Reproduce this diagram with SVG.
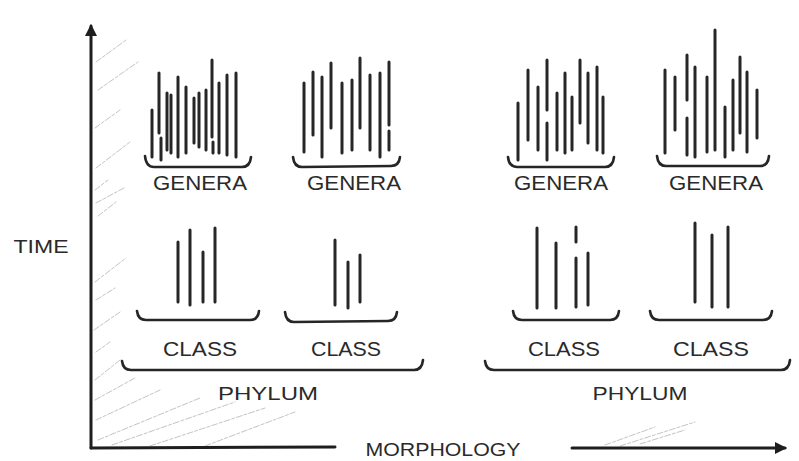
<svg xmlns="http://www.w3.org/2000/svg" width="799" height="461" viewBox="0 0 799 461">
<defs>
<style>
.ln{stroke:#262626;stroke-width:3;stroke-linecap:round;fill:none}
.br{stroke:#262626;stroke-width:2.6;stroke-linecap:round;stroke-linejoin:round;fill:none}
.ax{stroke:#1e1e1e;stroke-width:3;stroke-linecap:round;fill:none}
.tx{font-family:"Liberation Sans","DejaVu Sans",sans-serif;fill:#2a2a2a;text-anchor:middle}
.hatch{stroke:#c4c4c4;stroke-width:1;fill:none;stroke-linecap:round;stroke-dasharray:6 2 3 2}
</style>
<marker id="arr" viewBox="0 0 12 12" refX="10" refY="6" markerWidth="12" markerHeight="12" markerUnits="userSpaceOnUse" orient="auto">
<path d="M0,0 L12,6 L0,12 Z" fill="#1e1e1e"/>
</marker>
</defs>
<rect width="799" height="461" fill="#ffffff"/>

<g id="shading">
<path class="hatch" d="M96,62 L126,40 M98,90 L138,62 M95,128 L120,110 M96,168 L130,142 M95,190 L108,180 M96,203 L124,188 M98,216 L116,202 M95,282 L126,258 M96,300 L115,288 M94,330 L120,312 M96,352 L110,342 M95,380 L120,360 M95,400 L135,378 M96,420 L160,390 M98,440 L200,398 M112,445 L235,402 M150,446 L265,408 M205,446 L295,412 M605,445 L655,427 M620,446 L695,422 M640,444 L685,430"/>
</g>

<g id="connectors">
<path class="ax" d="M91,448 L91,26" marker-end="url(#arr)"/>
<path class="ax" d="M91,448 L335,447"/>
<path class="ax" d="M572,448 L785,448" marker-end="url(#arr)"/>
</g>

<g id="time-label"><text class="tx" x="41" y="253" font-size="18" textLength="55" lengthAdjust="spacingAndGlyphs">TIME</text></g>
<g id="morphology-label"><text class="tx" x="443" y="456" font-size="19" textLength="155" lengthAdjust="spacingAndGlyphs">MORPHOLOGY</text></g>

<g id="genera1">
<path class="ln" d="M152,110 L152,157 M159,73 L159,133 M161,138 L161,160 M167,93 L167,150 M171,95 L171,153 M178,77 L178,157 M186,87 L186,153 M194,98 L194,143 M199,93 L199,147 M206,90 L206,150 M212,60 L212,137 M213,142 L213,153 M219,83 L219,153 M227,75 L227,155 M236,73 L236,157"/>
<path class="br" d="M145,156 Q146,167 154,167 L242,167 Q250,167 251,157"/>
<text class="tx" x="200" y="190" font-size="21" textLength="94" lengthAdjust="spacingAndGlyphs">GENERA</text>
</g>

<g id="genera2">
<path class="ln" d="M304,83 L304,152 M313,72 L313,135 M322,77 L322,157 M331,63 L331,128 M342,83 L342,153 M352,80 L352,150 M360,58 L360,128 M370,75 L370,150 M380,73 L380,157 M389,62 L389,125 M389,131 L389,150"/>
<path class="br" d="M293,157 Q294,167 302,167 L391,166 Q399,166 400,157"/>
<text class="tx" x="354" y="190" font-size="21" textLength="94" lengthAdjust="spacingAndGlyphs">GENERA</text>
</g>

<g id="genera3">
<path class="ln" d="M518,103 L518,160 M528,70 L528,140 M538,87 L538,150 M547,60 L547,110 M547,123 L547,160 M557,93 L557,150 M565,73 L565,153 M572,97 L572,150 M580,60 L580,123 M588,73 L588,143 M597,67 L597,150 M603,97 L603,153"/>
<path class="br" d="M508,157 Q509,167 517,167 L605,167 Q613,167 614,157"/>
<text class="tx" x="561" y="190" font-size="21" textLength="94" lengthAdjust="spacingAndGlyphs">GENERA</text>
</g>

<g id="genera4">
<path class="ln" d="M665,70 L665,153 M675,77 L675,130 M687,55 L687,100 M687,118 L687,155 M695,67 L695,157 M707,77 L707,152 M715,30 L715,150 M725,107 L725,157 M733,80 L733,150 M740,57 L740,133 M747,72 L747,152 M757,90 L757,138"/>
<path class="br" d="M657,156 Q658,166 666,166 L760,166 Q768,166 769,156"/>
<text class="tx" x="716" y="190" font-size="21" textLength="94" lengthAdjust="spacingAndGlyphs">GENERA</text>
</g>

<g id="class1">
<path class="ln" d="M178,242 L178,302 M190,230 L190,305 M203,252 L203,302 M215,228 L215,302"/>
<path class="br" d="M137,311 Q138,320 146,320 L250,320 Q258,320 259,311"/>
<text class="tx" x="200" y="356" font-size="20" textLength="74" lengthAdjust="spacingAndGlyphs">CLASS</text>
</g>

<g id="class2">
<path class="ln" d="M335,240 L335,305 M348,262 L348,308 M360,255 L360,302"/>
<path class="br" d="M285,312 Q286,322 294,322 L388,321 Q396,321 397,312"/>
<text class="tx" x="346" y="356" font-size="20" textLength="70" lengthAdjust="spacingAndGlyphs">CLASS</text>
</g>

<g id="class3">
<path class="ln" d="M537,228 L537,308 M556,243 L556,308 M576,227 L576,242 M576,258 L576,307 M588,253 L588,305"/>
<path class="br" d="M513,311 Q514,320 522,320 L610,320 Q618,320 619,311"/>
<text class="tx" x="564" y="356" font-size="20" textLength="72" lengthAdjust="spacingAndGlyphs">CLASS</text>
</g>

<g id="class4">
<path class="ln" d="M695,223 L695,302 M712,235 L712,307 M728,227 L728,307"/>
<path class="br" d="M650,311 Q651,320 659,320 L763,320 Q771,320 772,311"/>
<text class="tx" x="711" y="356" font-size="20" textLength="76" lengthAdjust="spacingAndGlyphs">CLASS</text>
</g>

<g id="phylum1">
<path class="br" d="M122,361 Q123,370 131,370 L414,370 Q422,370 423,360"/>
<text class="tx" x="268" y="400" font-size="19" textLength="100" lengthAdjust="spacingAndGlyphs">PHYLUM</text>
</g>

<g id="phylum2">
<path class="br" d="M485,361 Q486,370 494,370 L781,370 Q789,370 790,360"/>
<text class="tx" x="640" y="400" font-size="19" textLength="95" lengthAdjust="spacingAndGlyphs">PHYLUM</text>
</g>
</svg>
